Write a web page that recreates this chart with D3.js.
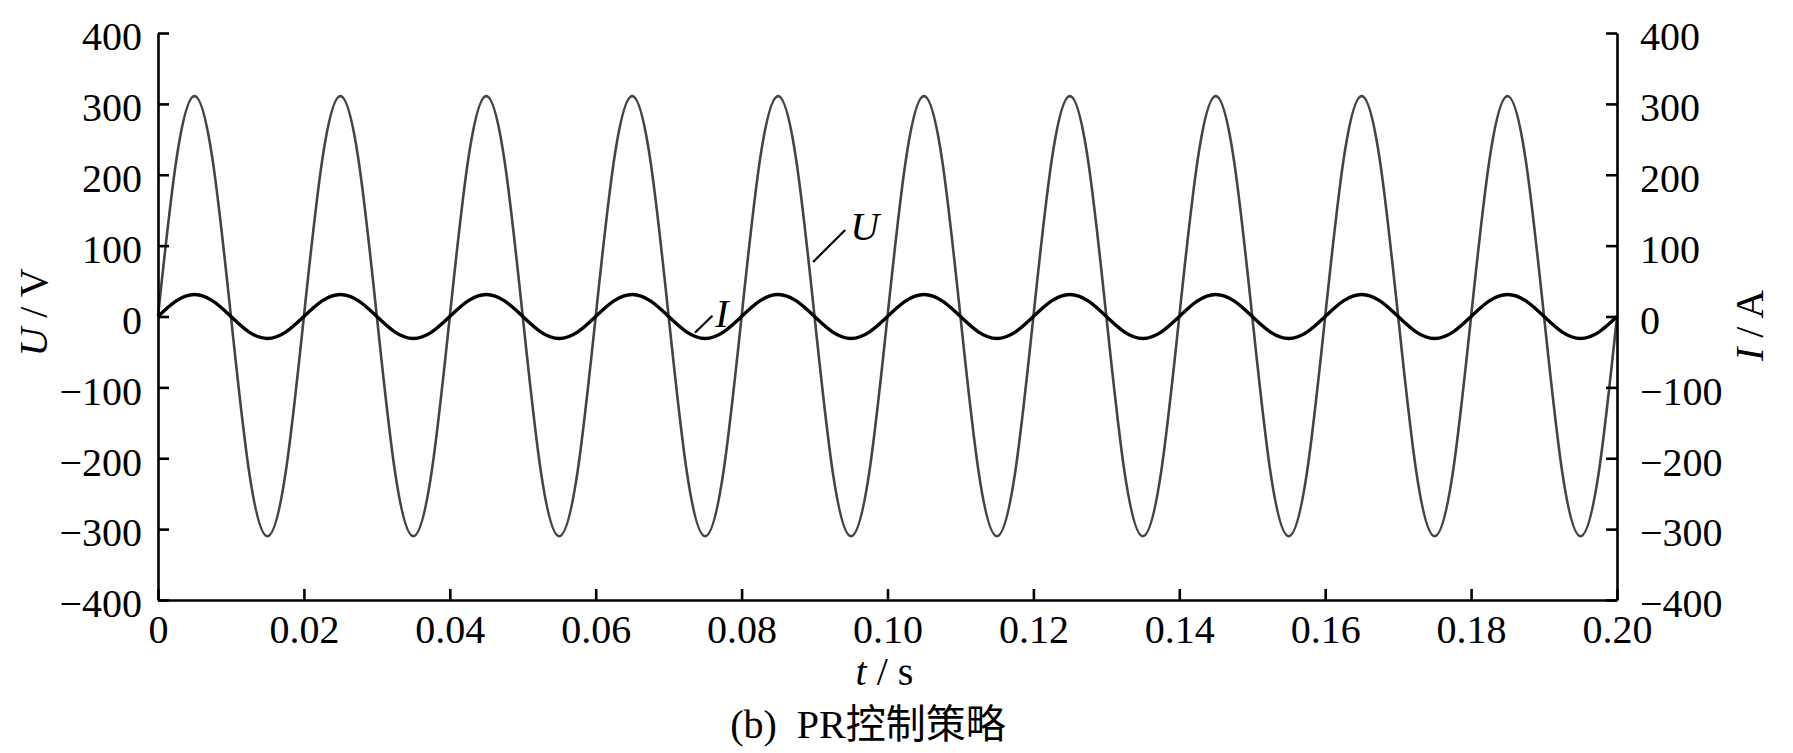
<!DOCTYPE html>
<html>
<head>
<meta charset="utf-8">
<script src="https://cdn.jsdelivr.net/npm/d3@7"></script>
<style>
  html, body { margin: 0; padding: 0; background: #fff; }
  svg text { font-family: "Liberation Serif", "Noto Sans CJK SC", serif; fill: #000; }
</style>
</head>
<body>
<svg id="chart" width="1793" height="753"></svg>
<script>
// ---- data ----
const timeS = [
  0, 0.0025, 0.005, 0.0075, 0.01, 0.0125, 0.015, 0.0175,
  0.02, 0.0225, 0.025, 0.0275, 0.03, 0.0325, 0.035, 0.0375,
  0.04, 0.0425, 0.045, 0.0475, 0.05, 0.0525, 0.055, 0.0575,
  0.06, 0.0625, 0.065, 0.0675, 0.07, 0.0725, 0.075, 0.0775,
  0.08, 0.0825, 0.085, 0.0875, 0.09, 0.0925, 0.095, 0.0975,
  0.10, 0.1025, 0.105, 0.1075, 0.11, 0.1125, 0.115, 0.1175,
  0.12, 0.1225, 0.125, 0.1275, 0.13, 0.1325, 0.135, 0.1375,
  0.14, 0.1425, 0.145, 0.1475, 0.15, 0.1525, 0.155, 0.1575,
  0.16, 0.1625, 0.165, 0.1675, 0.17, 0.1725, 0.175, 0.1775,
  0.18, 0.1825, 0.185, 0.1875, 0.19, 0.1925, 0.195, 0.1975,
  0.20
];
const voltageU = [
  0, 220, 311, 220, 0, -220, -310, -220,
  0, 220, 311, 220, 0, -220, -310, -220,
  0, 220, 311, 220, 0, -220, -310, -220,
  0, 220, 311, 220, 0, -220, -310, -220,
  0, 220, 311, 220, 0, -220, -310, -220,
  0, 220, 311, 220, 0, -220, -310, -220,
  0, 220, 311, 220, 0, -220, -310, -220,
  0, 220, 311, 220, 0, -220, -310, -220,
  0, 220, 311, 220, 0, -220, -310, -220,
  0, 220, 311, 220, 0, -220, -310, -220,
  0
];
const currentI = [
  0, 22, 31, 22, 0, -22, -31, -22,
  0, 22, 31, 22, 0, -22, -31, -22,
  0, 22, 31, 22, 0, -22, -31, -22,
  0, 22, 31, 22, 0, -22, -31, -22,
  0, 22, 31, 22, 0, -22, -31, -22,
  0, 22, 31, 22, 0, -22, -31, -22,
  0, 22, 31, 22, 0, -22, -31, -22,
  0, 22, 31, 22, 0, -22, -31, -22,
  0, 22, 31, 22, 0, -22, -31, -22,
  0, 22, 31, 22, 0, -22, -31, -22,
  0
];
const xTicks = [0, 0.02, 0.04, 0.06, 0.08, 0.10, 0.12, 0.14, 0.16, 0.18, 0.20];
const xTickLabels = ["0", "0.02", "0.04", "0.06", "0.08", "0.10", "0.12", "0.14", "0.16", "0.18", "0.20"];
const yTicks = [-400, -300, -200, -100, 0, 100, 200, 300, 400];
const yTickLabels = ["\u2212400", "\u2212300", "\u2212200", "\u2212100", "0", "100", "200", "300", "400"];
// annotation anchors in data units: [t, value]
const labelU = { text: "U", at: [0.0949, 108], leader: [[0.0898, 77], [0.0942, 122]] };
const labelI = { text: "I", at: [0.0764, -15], leader: [[0.0736, -23], [0.0760, 1]] };
const xTitle = ["t", " / s"];
const yLeftTitle = ["U", " / V"];
const yRightTitle = ["I", " / A"];
const caption = "(b)  PR控制策略";

// ---- layout ----
const L = 158, R = 1617, T = 33, B = 600;
const svg = d3.select("#chart");
const x = d3.scaleLinear().domain([0, 0.2]).range([L, R]);
const yL = d3.scaleLinear().domain([-400, 400]).range([B, T]);
const yR = d3.scaleLinear().domain([-400, 400]).range([B, T]);
const FS = 40;

// curves
const lineU = d3.line().x((d, i) => x(timeS[i])).y(d => yL(d)).curve(d3.curveNatural);
const lineI = d3.line().x((d, i) => x(timeS[i])).y(d => yR(d)).curve(d3.curveNatural);

svg.append("path").attr("d", lineU(voltageU))
  .attr("fill", "none").attr("stroke", "#444").attr("stroke-width", 2.6);
svg.append("path").attr("d", lineI(currentI))
  .attr("fill", "none").attr("stroke", "#000").attr("stroke-width", 3.4);

// axes
function styleAxis(g) {
  g.selectAll("path.domain").attr("stroke", "#000").attr("stroke-width", 2.6);
  g.selectAll(".tick line").attr("stroke", "#000").attr("stroke-width", 2.6);
  g.selectAll(".tick text").attr("font-size", FS).attr("font-family", "Liberation Serif").attr("fill", "#000");
}
const axL = d3.axisLeft(yL).tickValues(yTicks).tickFormat((d, i) => yTickLabels[i])
  .tickSizeInner(-11).tickSizeOuter(0).tickPadding(16);
const gL = svg.append("g").attr("transform", `translate(${L},0)`).call(axL);
styleAxis(gL);
gL.selectAll(".tick text").attr("dy", "0.42em");

const axR = d3.axisRight(yR).tickValues(yTicks).tickFormat((d, i) => yTickLabels[i])
  .tickSizeInner(-11).tickSizeOuter(0).tickPadding(23);
const gR = svg.append("g").attr("transform", `translate(${R},0)`).call(axR);
styleAxis(gR);
gR.selectAll(".tick text").attr("dy", "0.42em");

const axB = d3.axisBottom(x).tickValues(xTicks).tickFormat((d, i) => xTickLabels[i])
  .tickSizeInner(-11).tickSizeOuter(0).tickPadding(15);
const gB = svg.append("g").attr("transform", `translate(0,${B})`).call(axB);
styleAxis(gB);
gB.selectAll(".tick text").attr("dy", "0.71em");

// axis titles
const tx = svg.append("text").attr("x", (L + R) / 2 - 3).attr("y", 685)
  .attr("text-anchor", "middle").attr("font-size", FS);
tx.append("tspan").attr("font-style", "italic").text(xTitle[0]);
tx.append("tspan").text(xTitle[1]);

const tl = svg.append("text").attr("transform", `translate(47,${(T + B) / 2 - 4}) rotate(-90)`)
  .attr("text-anchor", "middle").attr("font-size", FS);
tl.append("tspan").attr("font-style", "italic").text(yLeftTitle[0]);
tl.append("tspan").text(yLeftTitle[1]);

const tr = svg.append("text").attr("transform", `translate(1763,${(T + B) / 2 + 9}) rotate(-90)`)
  .attr("text-anchor", "middle").attr("font-size", FS);
tr.append("tspan").attr("font-style", "italic").text(yRightTitle[0]);
tr.append("tspan").text(yRightTitle[1]);

// caption
svg.append("text").attr("x", 868).attr("y", 738).attr("text-anchor", "middle")
  .attr("font-size", 40).attr("xml:space", "preserve").style("white-space", "pre").text(caption);

// annotations
[[labelU, yL], [labelI, yR]].forEach(([a, ys]) => {
  svg.append("line")
    .attr("x1", x(a.leader[0][0])).attr("y1", ys(a.leader[0][1]))
    .attr("x2", x(a.leader[1][0])).attr("y2", ys(a.leader[1][1]))
    .attr("stroke", "#000").attr("stroke-width", 2.2);
  svg.append("text").attr("x", x(a.at[0])).attr("y", ys(a.at[1]))
    .attr("font-size", FS).attr("font-style", "italic").text(a.text);
});
</script>
</body>
</html>
